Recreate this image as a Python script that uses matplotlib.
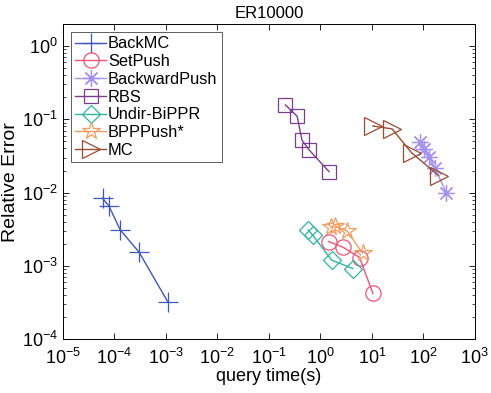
import matplotlib
matplotlib.use("Agg")
from matplotlib import pyplot as plt
import numpy as np

# query time (s) and relative error per method
backmc_t = [5.9e-5, 7.9e-5, 1.3e-4, 3.0e-4, 1.1e-3]
backmc_e = [8.4e-3, 6.5e-3, 3.1e-3, 1.55e-3, 3.2e-4]

setpush_t = [1.45, 2.75, 5.8, 10.5]
setpush_e = [2.15e-3, 1.8e-3, 1.3e-3, 4.2e-4]

backward_t = [85, 105, 130, 165, 280]
backward_e = [4.9e-2, 3.9e-2, 3.1e-2, 2.2e-2, 1.0e-2]

rbs_t = [0.21, 0.355, 0.44, 0.61, 1.48]
rbs_e = [0.157, 0.11, 0.052, 0.038, 0.0193]

bippr_t = [0.58, 0.72, 1.65, 4.3]
bippr_e = [3.1e-3, 2.6e-3, 1.2e-3, 9.2e-4]

bppp_t = [1.6, 1.9, 3.3, 6.6]
bppp_e = [3.4e-3, 3.5e-3, 3.0e-3, 1.5e-3]

mc_t = [10.5, 24.8, 59, 200]
mc_e = [0.081, 0.074, 0.035, 0.017]

labels = ['BackMC', 'SetPush', 'BackwardPush', 'RBS', 'Undir-BiPPR', 'BPPPush*', 'MC']
series = [(backmc_t, backmc_e), (setpush_t, setpush_e), (backward_t, backward_e),
          (rbs_t, rbs_e), (bippr_t, bippr_e), (bppp_t, bppp_e), (mc_t, mc_e)]
markers = ['+', 'o', (8, 2, 0), 's', 'D', '*', '>']
colors = ['#3f57bd', '#ee5475', '#a391f4', '#7a3d92', '#2fb5a2', '#f29c5e', '#9a4b31']
msizes = [14, 11, 12, 10, 9, 13, 13]

plt.rcParams['font.family'] = ['Liberation Sans', 'DejaVu Sans']
plt.rcParams['mathtext.fontset'] = 'custom'
plt.rcParams['mathtext.rm'] = 'Liberation Sans'
plt.rcParams['mathtext.it'] = 'Liberation Sans:italic'
plt.rcParams['mathtext.default'] = 'regular'

fig = plt.figure(figsize=(4.91, 3.93), dpi=100)
ax = fig.add_axes([0.128, 0.137, 0.839, 0.802])

for (t, e), lab, m, c, ms in zip(series, labels, markers, colors, msizes):
    ax.plot(t, e, color=c, marker=m, markersize=ms, markerfacecolor='none',
            markeredgecolor=c, markeredgewidth=0.9, linewidth=1.0, label=lab)

ax.set_xscale('log')
ax.set_yscale('log')
ax.set_xlim(1e-5, 1e3)
ax.set_ylim(1e-4, 2)
ax.set_xticks([10.0 ** k for k in range(-5, 4)])
ax.set_yticks([10.0 ** k for k in range(-4, 1)])
ax.tick_params(which='both', direction='in', top=True, right=True, labelsize=13)
ax.tick_params(axis='x', which='major', pad=6)
ax.tick_params(which='major', length=4, width=0.6)
ax.tick_params(which='minor', length=2, width=0.5)
for s in ax.spines.values():
    s.set_linewidth(0.7)

ax.set_title('ER10000', fontsize=12, pad=4)
ax.set_xlabel('query time(s)', fontsize=13, labelpad=0)
ax.set_ylabel('Relative Error', fontsize=14, labelpad=2)

leg = ax.legend(loc='upper left', fontsize=11.8, handlelength=1.9, handletextpad=0.1,
                labelspacing=0.17, borderpad=0.25, borderaxespad=0.5, fancybox=False)
leg.get_frame().set_edgecolor('#333333')
leg.get_frame().set_linewidth(0.7)

fig.savefig('out.png', dpi=100)
